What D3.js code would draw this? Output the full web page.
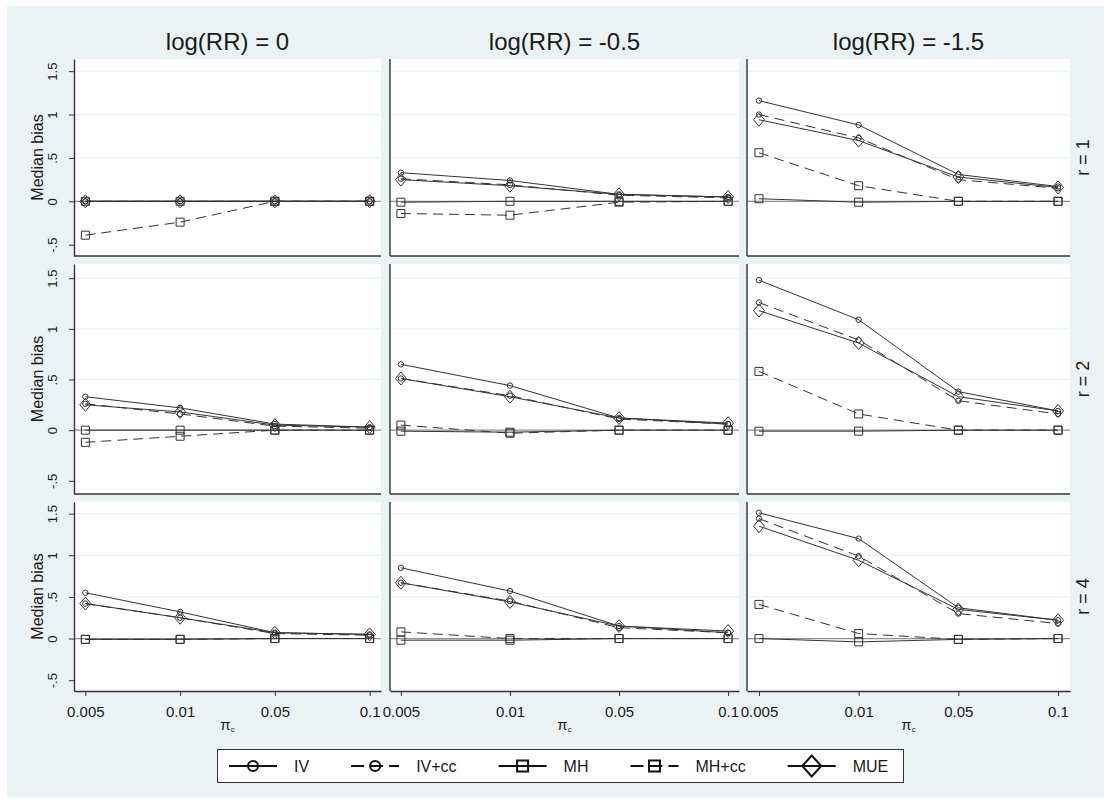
<!DOCTYPE html>
<html>
<head>
<meta charset="utf-8">
<script src="https://cdn.jsdelivr.net/npm/d3@7"></script>
<style>
    body { margin: 0; background: #ffffff; }
    text { font-family: "Liberation Sans", Arial, sans-serif; fill: #1a1a1a; }
</style>
</head>
<body>
<div id="chart"></div>
<script>

// x categories, panel labels, y ticks
const piLabels = ["0.005", "0.01", "0.05", "0.1"];
const rrLabels = ["log(RR) = 0", "log(RR) = -0.5", "log(RR) = -1.5"];
const rLabels = ["r = 1", "r = 2", "r = 4"];
const yTicks = [-0.5, 0, 0.5, 1, 1.5];
const yTickLabels = ["-.5", "0", ".5", "1", "1.5"];
const seriesNames = ["IV", "IV+cc", "MH", "MH+cc", "MUE"];

// median bias, indexed [r row][log(RR) column][pi_c]
const ivBias = [
    [[0, 0, 0, 0], [0.33, 0.24, 0.08, 0.05], [1.16, 0.88, 0.31, 0.17]],
    [[0.33, 0.22, 0.06, 0.03], [0.65, 0.44, 0.12, 0.06], [1.48, 1.09, 0.38, 0.19]],
    [[0.55, 0.32, 0.07, 0.05], [0.85, 0.57, 0.15, 0.07], [1.51, 1.20, 0.37, 0.22]]
];
const ivccBias = [
    [[0, 0, 0, 0], [0.26, 0.19, 0.07, 0.04], [1.00, 0.73, 0.25, 0.15]],
    [[0.26, 0.16, 0.04, 0.02], [0.51, 0.34, 0.11, 0.06], [1.26, 0.89, 0.29, 0.16]],
    [[0.42, 0.25, 0.06, 0.04], [0.67, 0.45, 0.13, 0.07], [1.44, 0.99, 0.30, 0.18]]
];
const mhBias = [
    [[0, 0, 0, 0], [-0.01, 0, 0, 0], [0.03, -0.01, 0, 0]],
    [[0, 0, 0, 0], [-0.01, -0.02, 0, 0], [-0.01, -0.01, 0, 0]],
    [[-0.01, -0.01, 0, 0], [-0.02, -0.02, 0, 0], [0, -0.04, -0.01, 0]]
];
const mhccBias = [
    [[-0.39, -0.24, 0, 0], [-0.14, -0.16, -0.01, 0], [0.56, 0.18, 0, 0]],
    [[-0.12, -0.06, 0, 0], [0.05, -0.03, 0, 0], [0.58, 0.16, 0, 0]],
    [[-0.01, -0.01, 0, 0], [0.08, 0, 0, 0], [0.41, 0.06, -0.01, 0]]
];
const mueBias = [
    [[0, 0, 0, 0], [0.25, 0.18, 0.08, 0.05], [0.94, 0.70, 0.28, 0.16]],
    [[0.25, 0.18, 0.05, 0.03], [0.51, 0.33, 0.12, 0.07], [1.18, 0.86, 0.33, 0.19]],
    [[0.42, 0.25, 0.07, 0.05], [0.67, 0.44, 0.15, 0.09], [1.35, 0.94, 0.35, 0.22]]
];

const seriesData = [ivBias, ivccBias, mhBias, mhccBias, mueBias];

// line / marker style of each series
const seriesStyle = [
    {dash: null, marker: "circle"},
    {dash: "10,6", marker: "circle"},
    {dash: null, marker: "square"},
    {dash: "10,6", marker: "square"},
    {dash: null, marker: "diamond"}
];

// panel layout (pixels)
const colBounds = [[74, 381], [390, 739], [747, 1070]];
const colPadding = [0.12, 0.1, 0.12];
const rowBounds = [[59, 256], [264, 494], [502, 691]];
const yDomain = [-0.63, 1.64];

const bgColor = "#eaf2f3";
const ink = "#333333";

function markerPath(type, big) {
    if (type === "circle") {
        let r = big ? 5 : 2.7;
        return `M${-r},0a${r},${r} 0 1,0 ${2 * r},0a${r},${r} 0 1,0 ${-2 * r},0Z`;
    }
    if (type === "square") {
        let a = big ? 5.5 : 4;
        return `M${-a},${-a}h${2 * a}v${2 * a}h${-2 * a}Z`;
    }
    let w = big ? 9.5 : 5.5, h = big ? 10.5 : 6.5;
    return `M0,${-h}L${w},0L0,${h}L${-w},0Z`;
}

let svg = d3.select("#chart").append("svg")
    .attr("width", 1110)
    .attr("height", 804);

// graph region
svg.append("rect")
    .attr("x", 7).attr("y", 6)
    .attr("width", 1097).attr("height", 792)
    .attr("fill", bgColor);

class PanelVis {

    constructor(svg, row, col) {
        this.svg = svg;
        this.row = row;
        this.col = col;
        this.initVis();
    }

    initVis() {
        let vis = this;

        vis.left = colBounds[vis.col][0];
        vis.right = colBounds[vis.col][1];
        vis.top = rowBounds[vis.row][0];
        vis.bottom = rowBounds[vis.row][1];

        vis.x = d3.scalePoint()
            .domain(piLabels)
            .range([vis.left, vis.right])
            .padding(colPadding[vis.col]);

        vis.y = d3.scaleLinear()
            .domain(yDomain)
            .range([vis.bottom, vis.top]);

        vis.g = vis.svg.append("g").attr("class", "panel");

        // plot region
        vis.g.append("rect")
            .attr("x", vis.left).attr("y", vis.top)
            .attr("width", vis.right - vis.left)
            .attr("height", vis.bottom - vis.top)
            .attr("fill", "#ffffff");

        // grid lines
        vis.g.selectAll(".grid")
            .data(yTicks.filter(d => d > 0))
            .enter().append("line")
            .attr("class", "grid")
            .attr("x1", vis.left).attr("x2", vis.right)
            .attr("y1", d => vis.y(d)).attr("y2", d => vis.y(d))
            .attr("stroke", bgColor)
            .attr("stroke-width", 1.2);

        // reference line at 0
        vis.g.append("line")
            .attr("x1", vis.left).attr("x2", vis.right)
            .attr("y1", vis.y(0)).attr("y2", vis.y(0))
            .attr("stroke", "#8f8f8f")
            .attr("stroke-width", 1.2);

        vis.updateVis();

        // left axis
        if (vis.col === 0) {
            let yAxis = d3.axisLeft(vis.y)
                .tickValues(yTicks)
                .tickFormat((d, i) => yTickLabels[i])
                .tickSize(5)
                .tickSizeOuter(0);
            let ya = vis.g.append("g")
                .attr("transform", `translate(${vis.left},0)`)
                .style("color", ink)
                .call(yAxis);
            ya.select(".domain").attr("stroke-width", 1.4);
            ya.selectAll("text")
                .attr("x", 0).attr("y", 0).attr("dy", 0)
                .attr("text-anchor", "middle")
                .attr("transform", "translate(-17,0) rotate(-90)")
                .style("font-family", '"Liberation Sans", Arial, sans-serif')
                .style("font-size", "13px")
                .attr("fill", "#1a1a1a");
        } else {
            vis.g.append("line")
                .attr("x1", vis.left).attr("x2", vis.left)
                .attr("y1", vis.top).attr("y2", vis.bottom)
                .attr("stroke", ink)
                .attr("stroke-width", 1.4);
        }

        // bottom axis
        if (vis.row === rowBounds.length - 1) {
            let xAxis = d3.axisBottom(vis.x)
                .tickSize(5)
                .tickSizeOuter(0);
            let xa = vis.g.append("g")
                .attr("transform", `translate(0,${vis.bottom})`)
                .style("color", ink)
                .call(xAxis);
            xa.select(".domain").attr("stroke-width", 1.4);
            xa.selectAll("text")
                .attr("y", 15)
                .style("font-family", '"Liberation Sans", Arial, sans-serif')
                .style("font-size", "15px")
                .attr("fill", "#1a1a1a");
        } else {
            vis.g.append("line")
                .attr("x1", vis.left).attr("x2", vis.right)
                .attr("y1", vis.bottom).attr("y2", vis.bottom)
                .attr("stroke", ink)
                .attr("stroke-width", 1.4);
        }
    }

    updateVis() {
        let vis = this;

        let line = d3.line()
            .x((d, i) => vis.x(piLabels[i]))
            .y(d => vis.y(d));

        seriesData.forEach((s, k) => {
            let values = s[vis.row][vis.col];
            let style = seriesStyle[k];

            vis.g.append("path")
                .datum(values)
                .attr("class", "series")
                .attr("d", line)
                .attr("fill", "none")
                .attr("stroke", ink)
                .attr("stroke-width", 1)
                .attr("stroke-dasharray", style.dash);

            vis.g.selectAll(".marker-" + k)
                .data(values)
                .enter().append("path")
                .attr("class", "marker-" + k)
                .attr("transform", (d, i) => `translate(${vis.x(piLabels[i])},${vis.y(d)})`)
                .attr("d", markerPath(style.marker, false))
                .attr("fill", "none")
                .attr("stroke", ink)
                .attr("stroke-width", 1);
        });
    }
}

let panels = [];
rowBounds.forEach((rb, r) => {
    colBounds.forEach((cb, c) => {
        panels.push(new PanelVis(svg, r, c));
    });
});

// column titles
svg.selectAll(".col-title")
    .data(rrLabels)
    .enter().append("text")
    .attr("class", "col-title")
    .attr("x", (d, i) => (colBounds[i][0] + colBounds[i][1]) / 2)
    .attr("y", 50)
    .attr("text-anchor", "middle")
    .style("font-size", "24px")
    .text(d => d);

// row labels on the right
svg.selectAll(".row-title")
    .data(rLabels)
    .enter().append("text")
    .attr("class", "row-title")
    .attr("transform", (d, i) => `translate(1089,${(rowBounds[i][0] + rowBounds[i][1]) / 2}) rotate(-90)`)
    .attr("text-anchor", "middle")
    .style("font-size", "18px")
    .text(d => d);

// y titles
svg.selectAll(".y-title")
    .data(rowBounds)
    .enter().append("text")
    .attr("class", "y-title")
    .attr("transform", d => `translate(43,${(d[0] + d[1]) / 2}) rotate(-90)`)
    .attr("text-anchor", "middle")
    .style("font-size", "16px")
    .text("Median bias");

// x titles
let xTitles = svg.selectAll(".x-title")
    .data(colBounds)
    .enter().append("text")
    .attr("class", "x-title")
    .attr("x", d => (d[0] + d[1]) / 2)
    .attr("y", 730)
    .attr("text-anchor", "middle")
    .style("font-size", "15px");
xTitles.append("tspan").text("π");
xTitles.append("tspan").attr("dy", 2).style("font-size", "8px").text("c");

// legend
let legend = svg.append("g").attr("class", "legend");

legend.append("rect")
    .attr("x", 217.5).attr("y", 749.5)
    .attr("width", 686).attr("height", 33)
    .attr("fill", "#ffffff")
    .attr("stroke", ink)
    .attr("stroke-width", 1);

let lx = 229;
const ly = 766;
seriesNames.forEach((name, k) => {
    let style = seriesStyle[k];
    let item = legend.append("g");

    item.append("line")
        .attr("x1", lx).attr("x2", lx + 48)
        .attr("y1", ly).attr("y2", ly)
        .attr("stroke", "#111")
        .attr("stroke-width", 2.2)
        .attr("stroke-dasharray", style.dash ? "13,6" : null);

    item.append("path")
        .attr("transform", `translate(${lx + 24},${ly})`)
        .attr("d", markerPath(style.marker, true))
        .attr("fill", "none")
        .attr("stroke", "#111")
        .attr("stroke-width", 2);

    let label = item.append("text")
        .attr("x", lx + 48 + 17)
        .attr("y", ly + 6)
        .style("font-size", "16px")
        .text(name);

    lx = lx + 48 + 17 + label.node().getComputedTextLength() + 42;
});

</script>
</body>
</html>
